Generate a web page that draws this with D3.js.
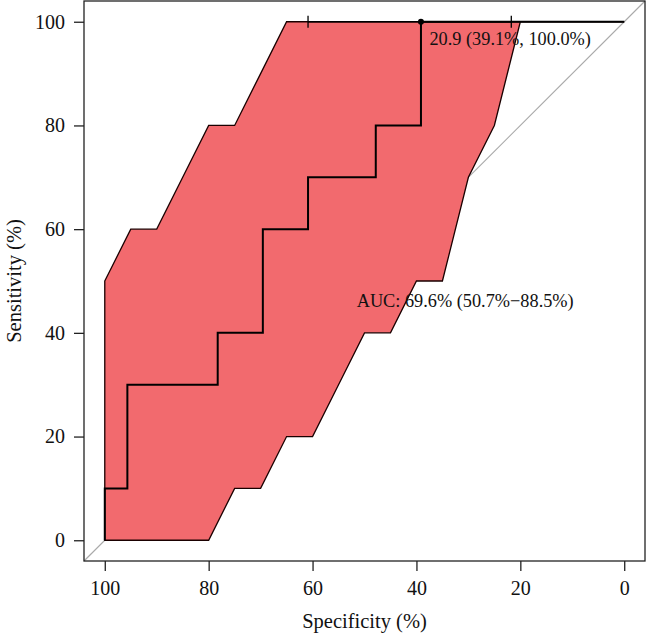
<!DOCTYPE html>
<html>
<head>
<meta charset="utf-8">
<script src="https://cdn.jsdelivr.net/npm/d3@7"></script>
<style>
  html, body { margin: 0; padding: 0; background: #fff; }
  svg { display: block; }
  text { font-family: "Liberation Serif", "Times New Roman", serif; fill: #111; }
</style>
</head>
<body>
<script>
// ---- Data ----
const rocSpecificity = [100, 100, 95.65, 95.65, 78.26, 78.26, 69.57, 69.57, 60.87, 60.87, 47.83, 47.83, 39.13, 39.13, 0];
const rocSensitivity = [0, 10, 10, 30, 30, 40, 40, 60, 60, 70, 70, 80, 80, 100, 100];

const ciSpecificity = [100, 95, 90, 85, 80, 75, 70, 65, 60, 55, 50, 45, 40, 35, 30, 25, 20, 15, 10, 5, 0];
const ciSeUpper     = [50, 60, 60, 70, 80, 80, 90, 100, 100, 100, 100, 100, 100, 100, 100, 100, 100, 100, 100, 100, 100];
const ciSeLower     = [0, 0, 0, 0, 0, 10, 10, 20, 20, 30, 40, 40, 50, 50, 70, 80, 100, 100, 100, 100, 100];

const thresholdValue = 20.9;
const thresholdSpec = 39.13;
const thresholdSens = 100;
const thresholdSpecCI = [60.87, 21.74];

const aucText = "AUC: 69.6% (50.7%\u221288.5%)";
const thresholdText = "20.9 (39.1%, 100.0%)";
const xTicks = [100, 80, 60, 40, 20, 0];
const yTicks = [0, 20, 40, 60, 80, 100];
const xLabel = "Specificity (%)";
const yLabel = "Sensitivity (%)";

// ---- Layout ----
const W = 646, H = 635;
const svg = d3.select("body").append("svg").attr("width", W).attr("height", H);

const x = d3.scaleLinear().domain([104, -4]).range([84, 645]);
const y = d3.scaleLinear().domain([-4, 104]).range([561, 1]);

// diagonal
svg.append("line")
  .attr("x1", x(104)).attr("y1", y(-4))
  .attr("x2", x(-4)).attr("y2", y(104))
  .attr("stroke", "#aaaaaa").attr("stroke-width", 1.2);

// CI polygon
const poly = [];
ciSpecificity.forEach((s, i) => poly.push([x(s), y(ciSeUpper[i])]));
for (let i = ciSpecificity.length - 1; i >= 0; i--) poly.push([x(ciSpecificity[i]), y(ciSeLower[i])]);
svg.append("path")
  .attr("d", d3.line()(poly) + "Z")
  .attr("fill", "#F26A6E")
  .attr("stroke", "#1a0000")
  .attr("stroke-width", 1.3)
  .attr("stroke-linejoin", "miter");

// ROC curve
const roc = rocSpecificity.map((s, i) => [x(s), y(rocSensitivity[i])]);
svg.append("path")
  .attr("d", d3.line()(roc))
  .attr("fill", "none")
  .attr("stroke", "#000")
  .attr("stroke-width", 2);

// threshold CI ticks
thresholdSpecCI.forEach(s => {
  svg.append("line")
    .attr("x1", x(s)).attr("x2", x(s))
    .attr("y1", y(thresholdSens) - 6).attr("y2", y(thresholdSens) + 6)
    .attr("stroke", "#000").attr("stroke-width", 1.3);
});
svg.append("line")
  .attr("x1", x(thresholdSpecCI[0])).attr("x2", x(thresholdSpecCI[1]))
  .attr("y1", y(thresholdSens)).attr("y2", y(thresholdSens))
  .attr("stroke", "#000").attr("stroke-width", 1.3);

// threshold point
svg.append("circle")
  .attr("cx", x(thresholdSpec)).attr("cy", y(thresholdSens))
  .attr("r", 3).attr("fill", "#000");

svg.append("text")
  .attr("x", x(thresholdSpec) + 8.5)
  .attr("y", y(thresholdSens) + 23.5)
  .attr("font-size", 18.3)
  .text(thresholdText);

// AUC text
svg.append("text")
  .attr("x", x(51.5))
  .attr("y", y(45))
  .attr("font-size", 18.3)
  .text(aucText);

// box
svg.append("rect")
  .attr("x", 84).attr("y", 1)
  .attr("width", 645 - 84).attr("height", 561 - 1)
  .attr("fill", "none").attr("stroke", "#222").attr("stroke-width", 1.3);

// axes
const xAxis = svg.append("g").attr("transform", `translate(0,561)`)
  .call(d3.axisBottom(x).tickValues(xTicks).tickSize(10).tickPadding(10).tickFormat(d3.format("d")));
const yAxis = svg.append("g").attr("transform", `translate(84,0)`)
  .call(d3.axisLeft(y).tickValues(yTicks).tickSize(10).tickPadding(9).tickFormat(d3.format("d")));
[xAxis, yAxis].forEach(g => {
  g.select(".domain").remove();
  g.selectAll(".tick line").attr("stroke", "#222").attr("stroke-width", 1.3);
  g.selectAll(".tick text").attr("font-family", "Liberation Serif, serif").attr("font-size", 20).attr("fill", "#111");
});

// axis labels
svg.append("text")
  .attr("x", (84 + 645) / 2).attr("y", 628)
  .attr("text-anchor", "middle").attr("font-size", 20.5)
  .text(xLabel);
svg.append("text")
  .attr("transform", `translate(21,${(1 + 561) / 2}) rotate(-90)`)
  .attr("text-anchor", "middle").attr("font-size", 20.5)
  .text(yLabel);
</script>
</body>
</html>
